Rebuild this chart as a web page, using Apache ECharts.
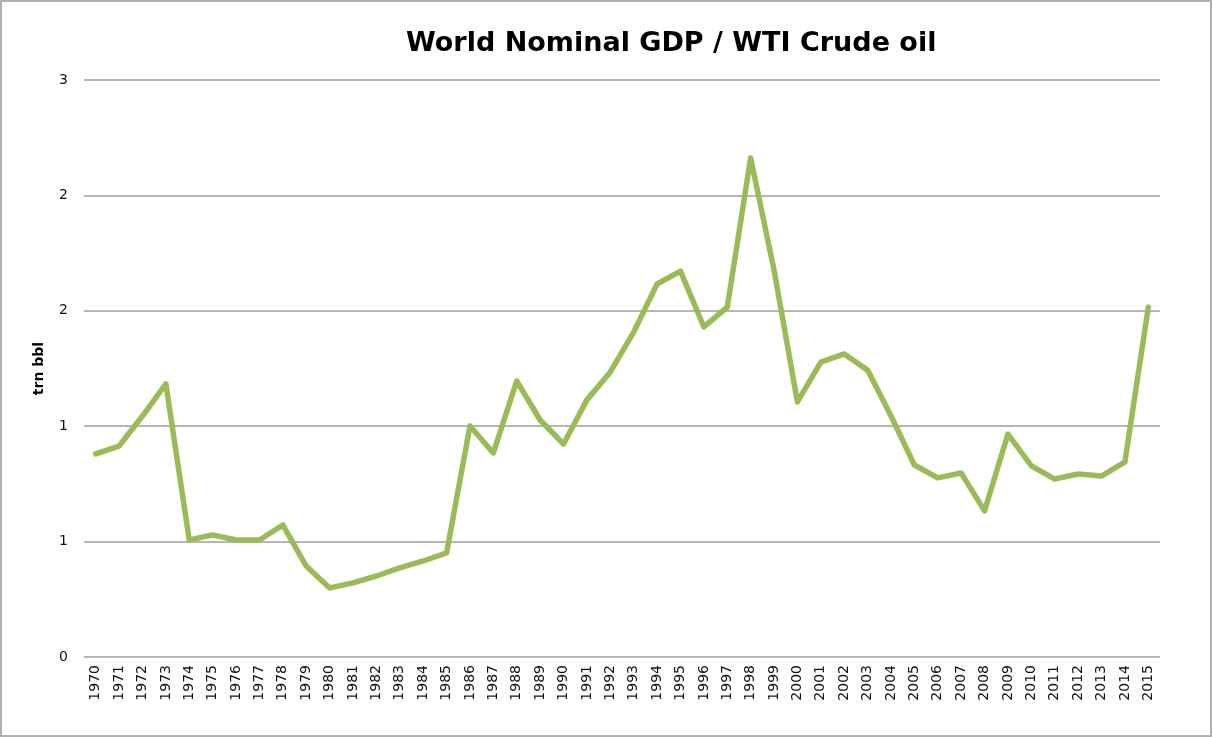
<!DOCTYPE html>
<html>
<head>
<meta charset="utf-8">
<script src="https://cdn.jsdelivr.net/npm/echarts@6/dist/echarts.min.js"></script>
<style>
    html, body { margin: 0; padding: 0; background: #fff; }
    #chart { width: 1212px; height: 737px; border: 2px solid #b0b0b0; box-sizing: border-box; }
</style>
</head>
<body>
<div id="chart"></div>
<script>
// 年份
const years = [
    '1970', '1971', '1972', '1973', '1974', '1975', '1976', '1977', '1978', '1979',
    '1980', '1981', '1982', '1983', '1984', '1985', '1986', '1987', '1988', '1989',
    '1990', '1991', '1992', '1993', '1994', '1995', '1996', '1997', '1998', '1999',
    '2000', '2001', '2002', '2003', '2004', '2005', '2006', '2007', '2008', '2009',
    '2010', '2011', '2012', '2013', '2014', '2015'
];

// GDP / WTI (trn bbl)
const gdpPerOil = [
    0.88, 0.914, 1.044, 1.183, 0.507, 0.529, 0.507, 0.507, 0.572, 0.394,
    0.299, 0.321, 0.351, 0.386, 0.416, 0.451, 1.001, 0.884, 1.196, 1.027,
    0.923, 1.114, 1.235, 1.408, 1.616, 1.672, 1.430, 1.516, 2.162, 1.677,
    1.105, 1.278, 1.313, 1.243, 1.044, 0.832, 0.776, 0.797, 0.633, 0.966,
    0.828, 0.771, 0.793, 0.784, 0.845, 1.516
];

const chart = echarts.init(document.getElementById('chart'));

const option = {
    animation: false,
    title: {
        text: 'World Nominal GDP / WTI Crude oil',
        left: 399,
        top: 23,
        textStyle: {
            fontFamily: 'DejaVu Sans',
            fontSize: 27,
            fontWeight: 'bold',
            color: '#000'
        }
    },
    grid: {
        left: 82,
        right: 50,
        top: 78,
        bottom: 78
    },
    xAxis: {
        type: 'category',
        data: years,
        boundaryGap: true,
        axisLine: { show: false },
        axisTick: { show: false },
        axisLabel: {
            rotate: 90,
            interval: 0,
            margin: 8,
            fontFamily: 'DejaVu Sans',
            fontSize: 14,
            color: '#111'
        }
    },
    yAxis: {
        type: 'value',
        min: 0,
        max: 2.5,
        interval: 0.5,
        name: 'trn bbl',
        nameLocation: 'middle',
        nameRotate: 90,
        nameGap: 38,
        nameTextStyle: {
            fontFamily: 'DejaVu Sans',
            fontSize: 14,
            fontWeight: 'bold',
            color: '#000'
        },
        axisLine: { show: false },
        axisTick: { show: false },
        axisLabel: {
            margin: 16,
            fontFamily: 'DejaVu Sans',
            fontSize: 14,
            color: '#111',
            formatter: v => Math.round(v).toFixed(0)
        },
        splitLine: {
            lineStyle: { color: '#9e9e9e', width: 1.5 }
        }
    },
    series: [{
        type: 'line',
        data: gdpPerOil,
        symbol: 'none',
        lineStyle: { color: '#9bbb59', width: 5.5, join: 'round', cap: 'round' }
    }]
};

chart.setOption(option);
</script>
</body>
</html>
